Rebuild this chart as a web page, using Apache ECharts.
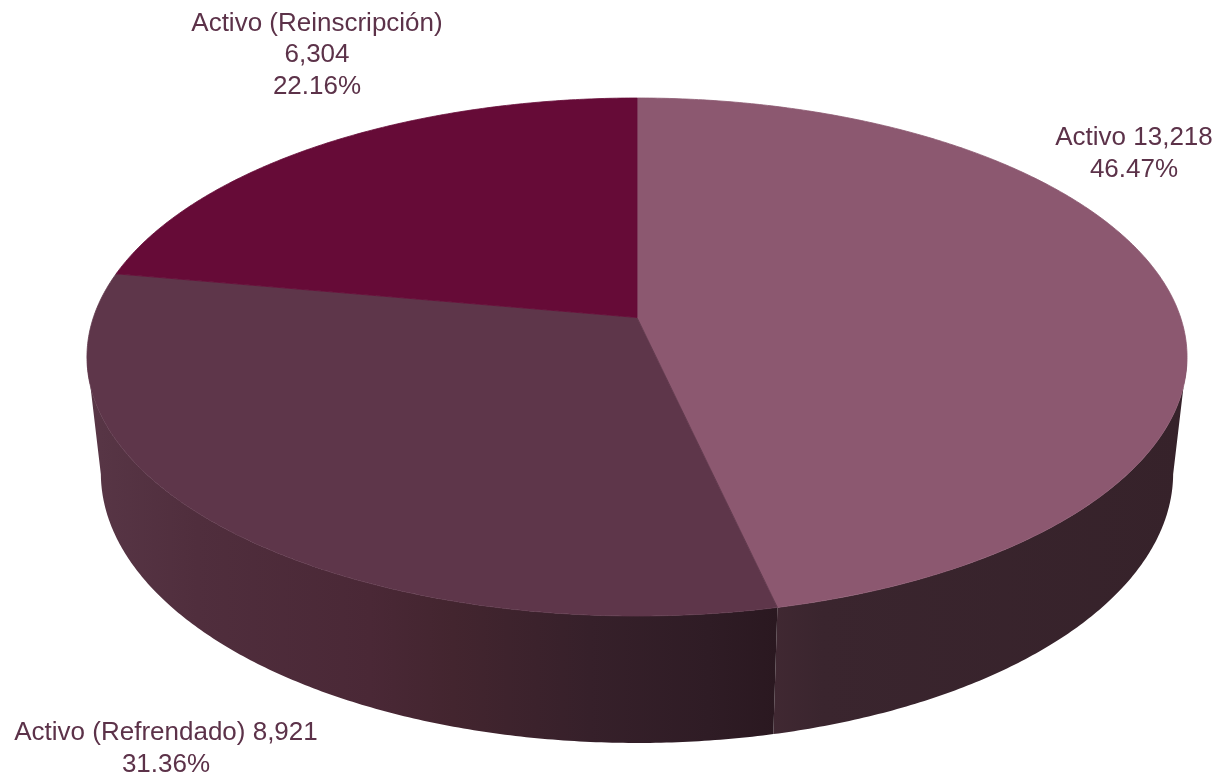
<!DOCTYPE html>
<html>
<head>
<meta charset="utf-8">
<script src="https://cdn.jsdelivr.net/npm/echarts@6/dist/echarts.min.js"></script>
<style>
html,body{margin:0;padding:0;background:#fff;}
#main{width:1223px;height:777px;}
</style>
</head>
<body>
<div id="main"></div>
<script>
// ---- data ----
const CATEGORIES = ['Activo', 'Activo (Refrendado)', 'Activo (Reinscripción)'];
const VALUES = [13218, 8921, 6304];

// ---- styles / layout ----
const TOP_COLORS = ['#8c5870', '#5e364a', '#660b37'];
const SIDE_STOPS = [
  [[0, '#40283 2'.replace(' ', '')], [0.12, '#3a252e'], [1, '#36222a']],
  [[0, '#583646'], [0.16, '#502e3d'], [0.41, '#4a2836'], [0.53, '#43252f'], [0.73, '#36202a'], [0.9, '#2f1c25'], [1, '#2a1820']],
  [[0, '#4a0828'], [1, '#3a061f']]
];
const LABEL_COLOR = '#5c3249';
const LABEL_LAYOUT = [
  { x: 1134, y: 154, sep: ' ' },
  { x: 166, y: 749, sep: ' ' },
  { x: 317, y: 55, sep: '\n' }
];
// perspective parameters of the tilted disc
const G = { cx: 637, A: 543.6, C: 0.1525, P0: 317.5, Q: -204.55, K: 0.02529, M: 126.4 };

function proj(theta, r, d) {
  const X = r * Math.sin(theta), Y = r * Math.cos(theta);
  const w = 1 + G.C * Y + G.K * d;
  return [G.cx + G.A * X / w, (G.P0 + G.Q * Y + G.M * d) / w];
}
function arc(t1, t2, d) {
  const pts = [];
  const n = Math.max(2, Math.ceil(Math.abs(t2 - t1) / (Math.PI / 360)));
  for (let i = 0; i <= n; i++) pts.push(proj(t1 + (t2 - t1) * i / n, 1, d));
  return pts;
}
const TOTAL = VALUES.reduce((a, b) => a + b, 0);
const fmt = v => v.toLocaleString('en-US');
const SIL = Math.acos(-G.C); // silhouette angle (right); left = 2PI - SIL

const chart = echarts.init(document.getElementById('main'), null, { renderer: 'canvas' });
chart.setOption({
  backgroundColor: '#ffffff',
  animation: false,
  series: [{
    type: 'custom',
    coordinateSystem: 'none',
    data: VALUES.map((v, i) => ({ name: CATEGORIES[i], value: v })),
    renderItem: function (params, api) {
      const i = params.dataIndex;
      const v = api.value(0);
      let before = 0;
      for (let k = 0; k < i; k++) before += VALUES[k];
      const t1 = before / TOTAL * 2 * Math.PI;
      const t2 = (before + v) / TOTAL * 2 * Math.PI;
      const children = [];
      // top face
      const top = [proj(0, 0, 0)].concat(arc(t1, t2, 0));
      children.push({
        type: 'polygon', z2: 10,
        shape: { points: top },
        style: { fill: TOP_COLORS[i], stroke: TOP_COLORS[i], lineWidth: 0.8 }
      });
      // visible outer side
      const a = Math.max(t1, SIL), b = Math.min(t2, 2 * Math.PI - SIL);
      if (b > a) {
        const pts = arc(a, b, 0).concat(arc(a, b, 1).reverse());
        const xs = pts.map(p => p[0]);
        const x0 = Math.min.apply(null, xs), x1 = Math.max.apply(null, xs);
        children.push({
          type: 'polygon', z2: 1,
          shape: { points: pts },
          style: {
            fill: {
              type: 'linear', global: true, x: x0, y: 0, x2: x1, y2: 0,
              colorStops: SIDE_STOPS[i].map(s => ({ offset: s[0], color: s[1] }))
            },
            stroke: null
          }
        });
      }
      // label
      const L = LABEL_LAYOUT[i];
      children.push({
        type: 'text', z2: 20,
        x: L.x, y: L.y,
        style: {
          text: CATEGORIES[i] + L.sep + fmt(v) + '\n' + (v / TOTAL * 100).toFixed(2) + '%',
          fill: LABEL_COLOR,
          fontSize: 26,
          fontFamily: '"Liberation Sans", Arial, sans-serif',
          lineHeight: 31.5,
          align: 'center',
          verticalAlign: 'middle'
        }
      });
      return { type: 'group', children: children };
    }
  }]
});
</script>
</body>
</html>
